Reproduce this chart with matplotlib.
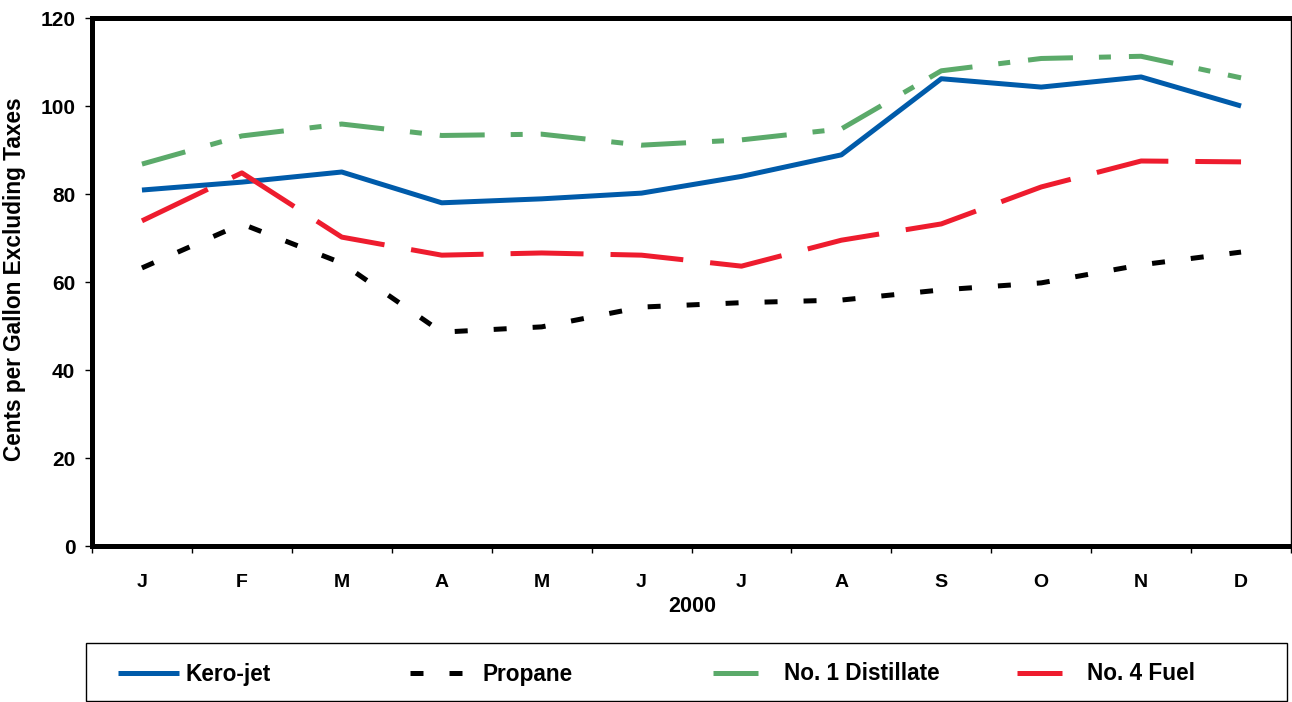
import matplotlib
matplotlib.use("Agg")
import matplotlib.pyplot as plt
from matplotlib.patches import Rectangle
import numpy as np

plt.rcParams['font.family'] = ['Liberation Sans', 'DejaVu Sans']
plt.rcParams['font.weight'] = 'bold'

months = ["J", "F", "M", "A", "M", "J", "J", "A", "S", "O", "N", "D"]
kero_jet = [80.9, 82.7, 85.0, 78.0, 78.9, 80.2, 84.0, 88.9, 106.2, 104.3, 106.6, 100.0]
propane = [63.2, 73.2, 64.3, 48.6, 49.8, 54.3, 55.3, 55.9, 58.2, 59.8, 63.9, 66.8]
no1_distillate = [86.8, 93.2, 95.9, 93.3, 93.6, 91.1, 92.3, 94.8, 108.0, 110.8, 111.3, 106.4]
no4_fuel = [73.9, 84.8, 70.2, 66.1, 66.6, 66.1, 63.6, 69.5, 73.2, 81.6, 87.5, 87.3]
y_ticks = [0, 20, 40, 60, 80, 100, 120]
series_names = ["Kero-jet", "Propane", "No. 1 Distillate", "No. 4 Fuel"]

W, H = 1292, 702
fig = plt.figure(figsize=(W / 100, H / 100), dpi=100)
ax = fig.add_axes([92 / W, 156 / H, 1199 / W, 528 / H])

x = np.arange(len(months))
l1, = ax.plot(x, kero_jet, color="#005BAA", lw=3.6, solid_capstyle="butt", label=series_names[0])
l2, = ax.plot(x, propane, color="black", lw=3.6, dashes=(2.6, 5.2), dash_capstyle="butt", label=series_names[1])
l3, = ax.plot(x, no1_distillate, color="#5BAA6A", lw=3.6, dashes=(9, 5.2, 2.4, 3.6), dash_capstyle="butt", label=series_names[2])
l4, = ax.plot(x, no4_fuel, color="#EE1C2E", lw=3.6, dashes=(14.6, 5.4), dash_capstyle="butt", label=series_names[3])

ax.set_xlim(-0.5, 11.5)
ax.set_ylim(0, 120)
ax.set_yticks(y_ticks)
ax.set_xticks(x)
ax.set_xticklabels(months)
ax.set_xticks(np.arange(-0.5, 12, 1), minor=True)
ax.tick_params(axis="x", which="major", length=0, pad=20, labelsize=14)
ax.tick_params(axis="x", which="minor", length=5, width=1, direction="out")
ax.tick_params(axis="y", length=5, width=1, direction="out", labelsize=15, pad=7)
for lbl in ax.get_xticklabels() + ax.get_yticklabels():
    lbl.set_fontweight("bold")

for s in ["left", "top", "bottom"]:
    ax.spines[s].set_linewidth(3.6)
ax.spines["right"].set_linewidth(1.0)

fig.text(15 / W, 1 - 279 / H, "Cents per Gallon Excluding Taxes", rotation=90,
         ha="center", va="center", fontsize=16.3, fontweight="bold")
fig.text(692 / W, 1 - 607 / H, "2000", ha="center", va="center",
         fontsize=15.5, fontweight="bold")

# legend frame
fig.patches.append(Rectangle((86 / W, 1 / H), 1201 / W, 58 / H, transform=fig.transFigure,
                             fill=False, edgecolor="black", linewidth=1.0))
handles = [l1, l2, l3, l4]
starts = [118, 410, 713, 1017]
hlens = [2.7, 2.4, 1.97, 2.0]
tpads = [0.3, 0.8, 1.15, 1.1]
for h, name, xs, hl, tp in zip(handles, series_names, starts, hlens, tpads):
    lg = fig.legend([h], [name], loc="center left",
                    bbox_to_anchor=(xs / W, 1 - 674 / H), frameon=False,
                    fontsize=16.3, handlelength=hl, handletextpad=tp,
                    borderpad=0, borderaxespad=0)
    for t in lg.get_texts():
        t.set_fontweight("bold")

fig.savefig("out.png", dpi=100)
